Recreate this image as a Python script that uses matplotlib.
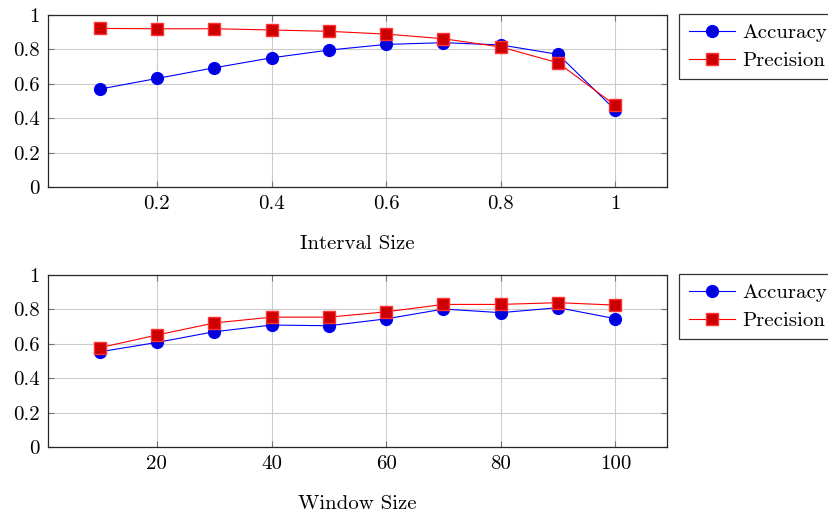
import matplotlib
matplotlib.use('Agg')
from matplotlib import pyplot as plt

# Interval size sweep
interval_x = [0.1, 0.2, 0.3, 0.4, 0.5, 0.6, 0.7, 0.8, 0.9, 1.0]
interval_accuracy = [0.569, 0.631, 0.693, 0.751, 0.796, 0.829, 0.839, 0.826, 0.771, 0.447]
interval_precision = [0.922, 0.920, 0.920, 0.913, 0.905, 0.889, 0.862, 0.814, 0.722, 0.474]

# Window size sweep
window_x = [10, 20, 30, 40, 50, 60, 70, 80, 90, 100]
window_accuracy = [0.553, 0.608, 0.670, 0.709, 0.705, 0.745, 0.802, 0.781, 0.810, 0.746]
window_precision = [0.577, 0.651, 0.721, 0.755, 0.755, 0.786, 0.829, 0.829, 0.839, 0.825]

y_ticks = [0, 0.2, 0.4, 0.6, 0.8, 1]
y_labels = ["0", "0.2", "0.4", "0.6", "0.8", "1"]
interval_ticks = [0.2, 0.4, 0.6, 0.8, 1.0]
interval_labels = ["0.2", "0.4", "0.6", "0.8", "1"]
window_ticks = [20, 40, 60, 80, 100]
window_labels = ["20", "40", "60", "80", "100"]

plt.rcParams['font.family'] = 'cmr10'
plt.rcParams['axes.formatter.use_mathtext'] = True
font_size = 15

fig = plt.figure(figsize=(8.29, 5.13), dpi=100)
W, H = 829.0, 513.0


def make_axes(top_px):
    return fig.add_axes([48 / W, 1 - (top_px + 172) / H, 619 / W, 172 / H])


def draw_panel(ax, x, acc, prec, xlim, xticks, xlabels, xlabel):
    ax.plot(x, acc, color=(0, 0, 1), lw=0.8, marker='o', markersize=8.5,
            markerfacecolor=(0, 0, 0.85), markeredgecolor=(0, 0, 1), label="Accuracy")
    ax.plot(x, prec, color=(1, 0, 0), lw=0.8, marker='s', markersize=8.5,
            markerfacecolor=(0.8, 0, 0), markeredgecolor=(1, 0.2, 0.2), label="Precision")
    ax.set_xlim(*xlim)
    ax.set_ylim(0, 1)
    ax.set_xticks(xticks)
    ax.set_xticklabels(xlabels, fontsize=font_size)
    ax.set_yticks(y_ticks)
    ax.set_yticklabels(y_labels, fontsize=font_size)
    ax.grid(True, color='#cccccc', lw=0.8)
    ax.set_axisbelow(True)
    ax.tick_params(direction='in', length=4, color='0.45', top=True, right=True, pad=6)
    for s in ax.spines.values():
        s.set_color('0.15')
        s.set_linewidth(0.9)
    ax.set_xlabel(xlabel, fontsize=font_size, labelpad=16)
    leg = ax.legend(loc='upper left', bbox_to_anchor=(1.02, 1.005), fontsize=font_size,
                    fancybox=False, framealpha=1, edgecolor='0.2', borderaxespad=0,
                    handlelength=2.2, handletextpad=0.35, borderpad=0.45, labelspacing=0.45)
    leg.get_frame().set_linewidth(0.9)


ax1 = make_axes(15)
draw_panel(ax1, interval_x, interval_accuracy, interval_precision, (0.01, 1.09),
           interval_ticks, interval_labels, "Interval Size")
ax2 = make_axes(275)
draw_panel(ax2, window_x, window_accuracy, window_precision, (1, 109),
           window_ticks, window_labels, "Window Size")

fig.savefig("out.png", dpi=100)
